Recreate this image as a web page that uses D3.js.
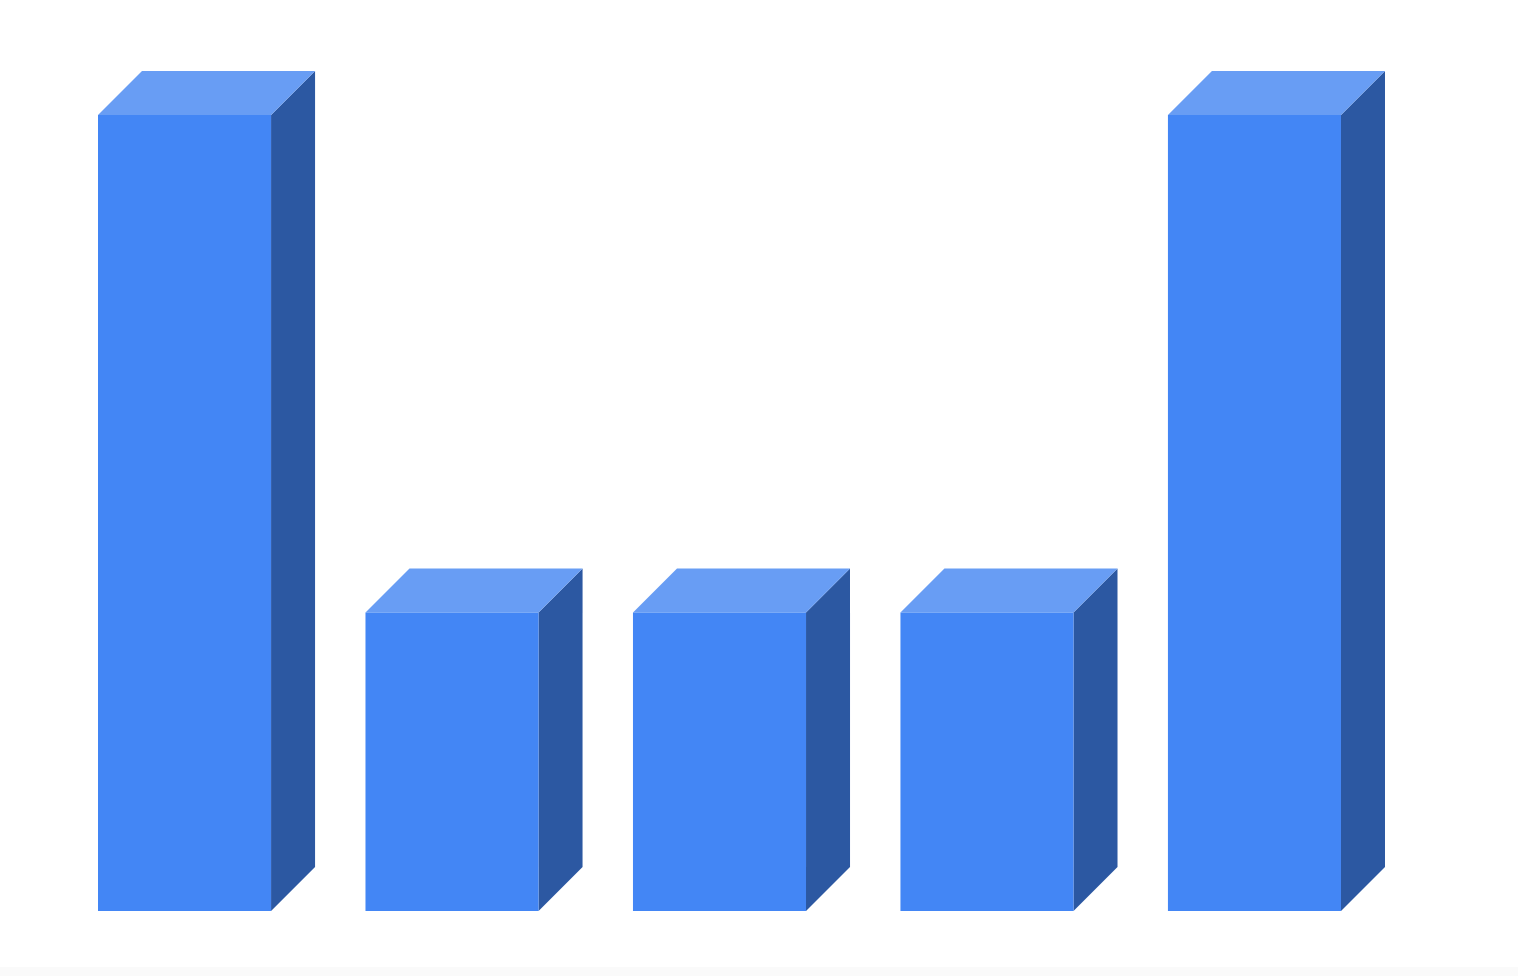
<!DOCTYPE html>
<html>
<head>
<meta charset="utf-8">
<script src="https://cdn.jsdelivr.net/npm/d3@7/dist/d3.min.js"></script>
<style>
  html, body { margin: 0; padding: 0; background: #fafafa; overflow: hidden; }
  svg { display: block; background: #fff; }
</style>
</head>
<body>
<div id="chart"></div>
<script>
// 3D-looking bar chart, five categories
const categories = ['A', 'B', 'C', 'D', 'E'];
const values = [8, 3, 3, 3, 8];
const yTicks = [0, 2, 4, 6, 8];

const width = 1518, height = 967;
const margin = { top: 115, right: 177, bottom: 56, left: 98 };
const depth = 44;

const svg = d3.select('#chart')
  .append('svg')
  .attr('width', width)
  .attr('height', height);

const x = d3.scaleBand()
  .domain(categories)
  .range([margin.left, width - margin.right])
  .paddingInner(0.353)
  .paddingOuter(0);

const y = d3.scaleLinear()
  .domain([0, d3.max(yTicks)])
  .range([height - margin.bottom, margin.top]);

const bars = svg.selectAll('g.bar')
  .data(categories.map((c, i) => ({ cat: c, value: values[i] })))
  .enter()
  .append('g')
  .attr('class', 'bar');

// right side face
bars.append('path')
  .attr('fill', '#2c58a2')
  .attr('d', d => {
    const x1 = x(d.cat) + x.bandwidth();
    const y0 = y(0), y1 = y(d.value);
    return `M${x1},${y1}L${x1 + depth},${y1 - depth}L${x1 + depth},${y0 - depth}L${x1},${y0}Z`;
  });

// top face
bars.append('path')
  .attr('fill', '#689df4')
  .attr('d', d => {
    const x0 = x(d.cat), x1 = x0 + x.bandwidth();
    const y1 = y(d.value);
    return `M${x0},${y1}L${x0 + depth},${y1 - depth}L${x1 + depth},${y1 - depth}L${x1},${y1}Z`;
  });

// front face
bars.append('rect')
  .attr('fill', '#4386f5')
  .attr('x', d => x(d.cat))
  .attr('y', d => y(d.value))
  .attr('width', x.bandwidth())
  .attr('height', d => y(0) - y(d.value));
</script>
</body>
</html>
